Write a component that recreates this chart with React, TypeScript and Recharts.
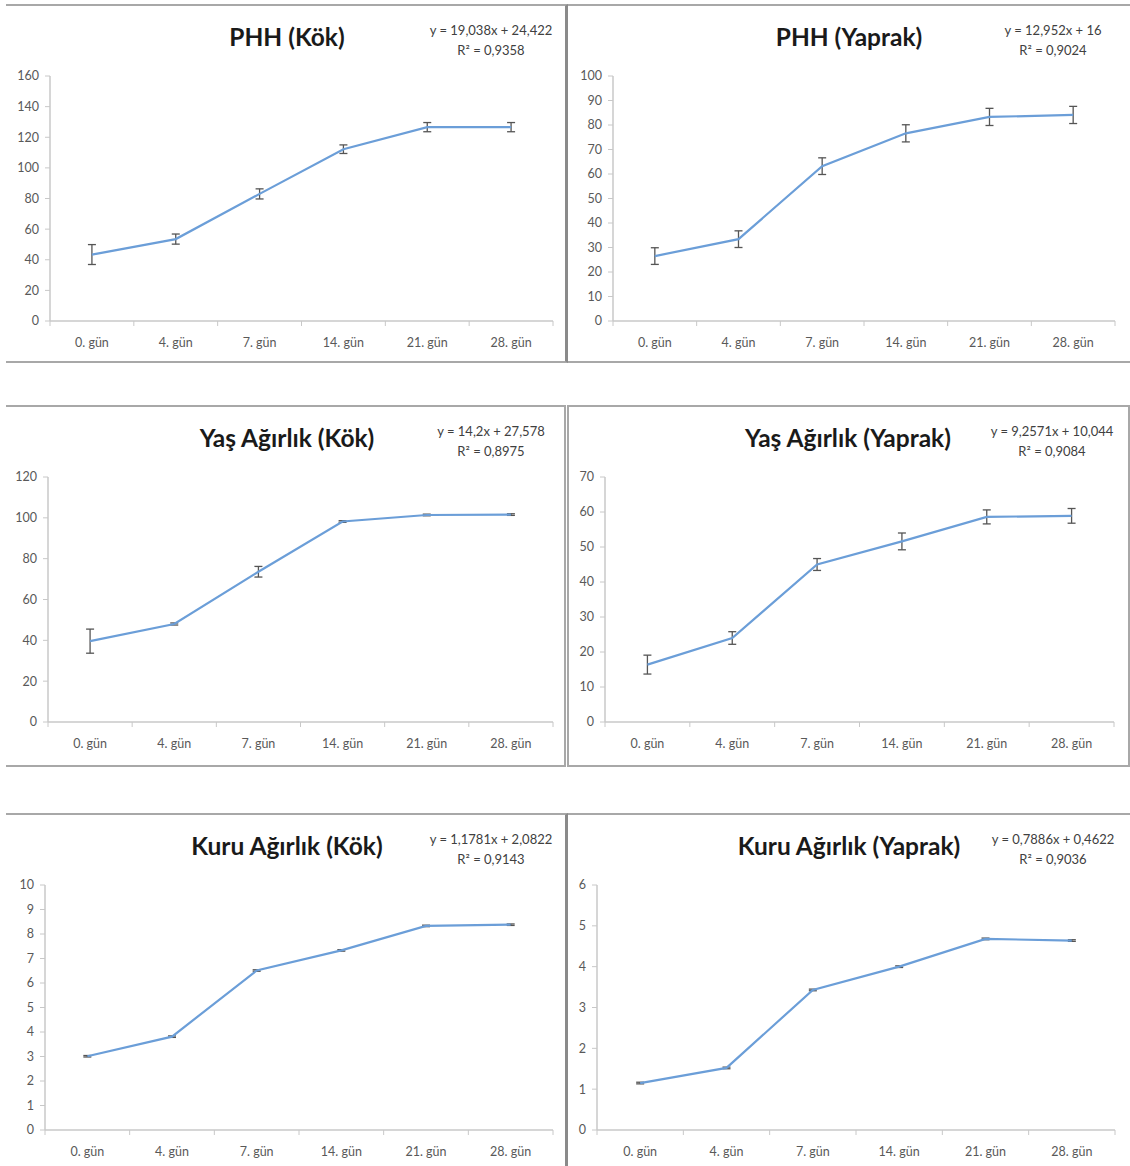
import React from "react";
import { LineChart, Line, XAxis, YAxis, ErrorBar } from "recharts";

const days = ["0. gün", "4. gün", "7. gün", "14. gün", "21. gün", "28. gün"];

const phhKok = [43.4, 53.5, 83.0, 112.2, 126.6, 126.6];
const phhKokErr = [6.5, 3.3, 3.3, 2.8, 3.0, 3.0];
const phhYaprak = [26.5, 33.4, 63.2, 76.6, 83.3, 84.1];
const phhYaprakErr = [3.4, 3.4, 3.4, 3.5, 3.5, 3.5];
const yasKok = [39.6, 48.0, 73.6, 98.2, 101.4, 101.6];
const yasKokErr = [5.9, 0.5, 2.6, 0.4, 0.4, 0.4];
const yasYaprak = [16.4, 24.0, 45.0, 51.6, 58.6, 58.9];
const yasYaprakErr = [2.7, 1.8, 1.7, 2.4, 2.0, 2.1];
const kuruKok = [3.01, 3.81, 6.51, 7.33, 8.33, 8.38];
const kuruKokErr = [0.03, 0.03, 0.03, 0.03, 0.03, 0.03];
const kuruYaprak = [1.15, 1.52, 3.43, 4.0, 4.68, 4.64];
const kuruYaprakErr = [0.02, 0.02, 0.02, 0.02, 0.02, 0.02];

const titles = [
  "PHH (Kök)",
  "PHH (Yaprak)",
  "Yaş Ağırlık (Kök)",
  "Yaş Ağırlık (Yaprak)",
  "Kuru Ağırlık (Kök)",
  "Kuru Ağırlık (Yaprak)",
];
const equations = [
  ["y = 19,038x + 24,422", "R² = 0,9358"],
  ["y = 12,952x + 16", "R² = 0,9024"],
  ["y = 14,2x + 27,578", "R² = 0,8975"],
  ["y = 9,2571x + 10,044", "R² = 0,9084"],
  ["y = 1,1781x + 2,0822", "R² = 0,9143"],
  ["y = 0,7886x + 0,4622", "R² = 0,9036"],
];
const yTicks = [
  [0, 20, 40, 60, 80, 100, 120, 140, 160],
  [0, 10, 20, 30, 40, 50, 60, 70, 80, 90, 100],
  [0, 20, 40, 60, 80, 100, 120],
  [0, 10, 20, 30, 40, 50, 60, 70],
  [0, 1, 2, 3, 4, 5, 6, 7, 8, 9, 10],
  [0, 1, 2, 3, 4, 5, 6],
];
const xTicks = [0, 0.5, 1, 1.5, 2, 2.5, 3, 3.5, 4, 4.5, 5, 5.5, 6];

const build = (vals: number[], errs: number[]) =>
  vals.map((v, i) => ({ x: i + 0.5, value: v, err: errs[i] }));

const series = [
  build(phhKok, phhKokErr),
  build(phhYaprak, phhYaprakErr),
  build(yasKok, yasKokErr),
  build(yasYaprak, yasYaprakErr),
  build(kuruKok, kuruKokErr),
  build(kuruYaprak, kuruYaprakErr),
];

const FONT = "Lato, 'Open Sans', sans-serif";
const AXIS = "#c8c8c8";
const LABEL = "#595959";

const XTick = (props: any) => {
  const { x, y, payload } = props;
  const v = payload.value;
  if (Number.isInteger(v)) {
    return <line x1={x} x2={x} y1={y} y2={y + 5} stroke={AXIS} strokeWidth={1} />;
  }
  return (
    <text x={x} y={y + 22} dy="0.35em" textAnchor="middle" fill={LABEL} fontSize={12.5} fontFamily={FONT}>
      {days[Math.floor(v)]}
    </text>
  );
};

type Box = {
  left: number;
  top: number;
  width: number;
  height: number;
  yw: number;
  borders: React.CSSProperties;
};

const boxes: Box[] = [
  { left: 6, top: 4, width: 562, height: 359, yw: 44, borders: { borderTop: "2px solid #a8a8a8", borderBottom: "2px solid #a8a8a8", borderRight: "3px solid #8a8a8a" } },
  { left: 568, top: 4, width: 562, height: 359, yw: 45, borders: { borderTop: "2px solid #a8a8a8", borderBottom: "2px solid #a8a8a8" } },
  { left: 6, top: 405, width: 560, height: 362, yw: 42, borders: { borderTop: "2px solid #a8a8a8", borderBottom: "2px solid #a8a8a8", borderRight: "2px solid #a8a8a8" } },
  { left: 567, top: 405, width: 563, height: 362, yw: 38, borders: { borderTop: "2px solid #a8a8a8", borderBottom: "2px solid #a8a8a8", borderLeft: "2px solid #a8a8a8", borderRight: "2px solid #a8a8a8" } },
  { left: 6, top: 813, width: 562, height: 360, yw: 39, borders: { borderTop: "2px solid #a8a8a8", borderRight: "3px solid #8a8a8a" } },
  { left: 568, top: 813, width: 562, height: 360, yw: 29, borders: { borderTop: "2px solid #a8a8a8" } },
];

const Panel = ({ idx }: { idx: number }) => {
  const b = boxes[idx];
  const ticks = yTicks[idx];
  const chartW = 562;
  const chartH = 358;
  return (
    <>
      <div
        style={{
          position: "absolute",
          left: b.left,
          top: b.top,
          width: b.width,
          height: b.height,
          boxSizing: "border-box",
          ...b.borders,
        }}
      />
      <div style={{ position: "absolute", left: b.left, top: b.top }}>
        <LineChart
          width={chartW}
          height={chartH}
          data={series[idx]}
          margin={{ top: 72, right: 15, bottom: 11, left: 0 }}
        >
          <XAxis
            dataKey="x"
            type="number"
            domain={[0, 6]}
            ticks={xTicks}
            interval={0}
            tickLine={false}
            tickSize={0}
            tickMargin={0}
            height={30}
            tick={<XTick />}
            axisLine={{ stroke: AXIS, strokeWidth: 1.5 }}
          />
          <YAxis
            type="number"
            domain={[ticks[0], ticks[ticks.length - 1]]}
            ticks={ticks}
            interval={0}
            width={b.yw}
            tickSize={5}
            tickMargin={6}
            axisLine={{ stroke: AXIS, strokeWidth: 1.5 }}
            tickLine={{ stroke: AXIS }}
            tick={{ fill: LABEL, fontSize: 12.5, fontFamily: FONT }}
          />
          <Line
            dataKey="value"
            stroke="#6b9ed8"
            strokeWidth={2.2}
            dot={false}
            isAnimationActive={false}
          >
            <ErrorBar dataKey="err" direction="y" width={4} stroke="#555555" strokeWidth={1.3} isAnimationActive={false} />
          </Line>
        </LineChart>
      </div>
      <div
        style={{
          position: "absolute",
          left: b.left,
          top: b.top + 18,
          width: 562,
          textAlign: "center",
          fontFamily: FONT,
          fontWeight: 700,
          fontSize: 24.5,
          color: "#1a1a1a",
          lineHeight: "30px",
        }}
      >
        {titles[idx]}
      </div>
      <div
        style={{
          position: "absolute",
          left: b.left + 400,
          top: b.top + 16,
          width: 170,
          textAlign: "center",
          fontFamily: FONT,
          fontSize: 13,
          color: "#404040",
          lineHeight: "20px",
        }}
      >
        <div>{equations[idx][0]}</div>
        <div>{equations[idx][1]}</div>
      </div>
    </>
  );
};

export default function App() {
  return (
    <div
      style={{
        position: "absolute",
        left: 0,
        top: 0,
        width: 1130,
        height: 1166,
        background: "#ffffff",
        overflow: "hidden",
      }}
    >
      {[0, 1, 2, 3, 4, 5].map((i) => (
        <Panel key={i} idx={i} />
      ))}
    </div>
  );
}
